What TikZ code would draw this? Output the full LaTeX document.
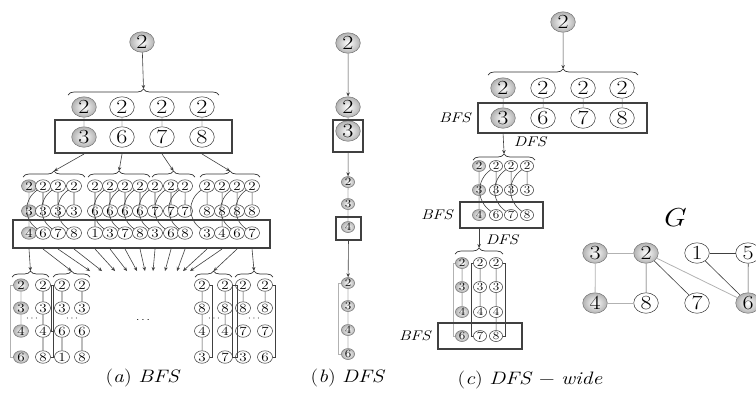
\documentclass[tikz,border=0pt]{standalone}
\usepackage{tikz}
\usetikzlibrary{positioning,decorations.pathreplacing,arrows.meta}

\tikzset{
  vtx/.style={circle, draw=black!80, inner sep=0pt, line width=0.5pt},
  big/.style={vtx, minimum size=20.5pt, font=\fontsize{20}{20}\selectfont},
  med/.style={vtx, minimum size=12.5pt, font=\fontsize{12.5}{12.5}\selectfont},
  sml/.style={vtx, minimum size=11pt, font=\fontsize{11}{11}\selectfont},
  seen/.style={inner color=white, outer color=black!30, draw=black!55},
  unseen/.style={fill=white},
  bfsbox/.style={draw=black!75, line width=2pt, inner sep=0pt},
  brc/.style={decorate, decoration={brace, amplitude=6pt}, draw=black!80, line width=0.7pt},
  gl/.style={draw=black!30, line width=0.8pt},
  dl/.style={draw=black!75, line width=0.6pt},
  lbl/.style={font=\fontsize{14}{14}\selectfont\itshape, inner sep=0pt},
  captxt/.style={font=\fontsize{18}{18}\selectfont}
}

\begin{document}
\begin{tikzpicture}[x=0.8333pt, y=1pt, xscale=1.2, transform shape,
    >={Stealth[length=4pt,width=3.5pt]}]
  \useasboundingbox (0,0) rectangle (756,-397);

  % (a) BFS: the root and the first level
  \node[big,seen] (a0) at (142,-42) {2};
  \draw[brc] (68,-95) -- (219,-95);
  \coordinate (a0t) at (143.5,-89);
  \draw[->,dl] (a0) -- (a0t);
  \foreach \x/\v/\s [count=\i] in {84/3/seen,122/6/unseen,162/7/unseen,202/8/unseen} {
    \node[big,\s] (a1\i) at (\x,-107) {2};
    \node[big,\s] (a2\i) at (\x,-137) {\v};
  }
  \foreach \i in {1,...,4} \draw[gl] (a1\i) -- (a2\i);
  \node[bfsbox, minimum width=147.5pt, minimum height=33pt] (boxa1) at (143.5,-136.5) {};

  % second level: one brace per node of the box
  \foreach \l/\r [count=\i] in {23/85,88/150,152/195,200/260} {
    \draw[brc] (\l,-177) -- (\r,-177);
    \coordinate (a2t\i) at ({(\l+\r)/2},-171);
  }
  \foreach \i in {1,...,4} \draw[->,dl] (a2\i |- boxa1.south) -- (a2t\i);

  \foreach \x/\m/\b/\s [count=\j] in {29/3/4/seen,43/3/6/unseen,58/3/7/unseen,74/3/8/unseen,
      95/6/1/unseen,110/6/3/unseen,125/6/7/unseen,140/6/8/unseen,
      155/7/3/unseen,171/7/6/unseen,185/7/8/unseen,
      207/8/3/unseen,222/8/4/unseen,237/8/6/unseen,252/8/7/unseen} {
    \node[med,\s] (c\j) at (\x,-186) {2};
    \node[med,\s] (d\j) at (\x,-211) {\m};
    \node[med,\s] (e\j) at (\x,-233) {\b};
  }
  \draw[gl] (c1) -- (d1) -- (e1);
  \foreach \j in {2,...,15} \draw[dl] (c\j) -- (d\j);
  \foreach \j in {5,13} \draw[dl] (d\j) -- (e\j);
  \foreach \j in {2,3,4,6,7,8,9,10,11,12,14,15} \draw[dl] (c\j) to[bend right=50] (e\j);
  \node[bfsbox, minimum width=214.2pt, minimum height=28pt] (boxa2) at (141.5,-234) {};

  % third level (only the first and the last two groups are drawn)
  \foreach \l/\r/\n in {12/49/f1,53/90/f2,195/232/f14,235/273/f15} {
    \draw[brc] (\l,-277) -- (\r,-277);
    \coordinate (\n) at ({(\l+\r)/2},-271);
  }
  \foreach \j/\t in {3/90,4/102,5/115,6/127,7/137,8/145,9/153,10/165,11/177,12/183,13/190}
    \coordinate (f\j) at (\t,-271);
  \foreach \j in {1,...,15} \draw[->,dl] (e\j |- boxa2.south) -- (f\j);

  \foreach \x/\p/\q/\r/\s [count=\k] in {21/3/4/6/seen,43/3/4/8/unseen,62/3/6/1/unseen,82/3/6/8/unseen,
      202/8/4/3/unseen,225/8/4/7/unseen,243/8/7/3/unseen,265/8/7/6/unseen} {
    \node[med,\s] (ha\k) at (\x,-285) {2};
    \node[med,\s] (hb\k) at (\x,-308) {\p};
    \node[med,\s] (hc\k) at (\x,-331) {\q};
    \node[med,\s] (hd\k) at (\x,-357) {\r};
  }
  \draw[gl] (ha1) -- (hb1) -- (hc1);
  \draw[gl] (ha1.west) -- ++(-2.5,0) |- (hd1.west);
  \draw[dl] (ha2) -- (hb2) -- (hc2) -- (hd2);
  \draw[dl] (ha2.east) -- ++(2.5,0) |- (hd2.east);
  \draw[dl] (ha3) -- (hb3);
  \draw[dl] (hc3) -- (hd3);
  \draw[dl] (ha3.west) -- ++(-2.5,0) |- (hc3.west);
  \draw[dl] (ha4) -- (hb4);
  \draw[dl] (hc4) -- (hd4);
  \draw[dl] (ha5) -- (hb5) -- (hc5) -- (hd5);
  \draw[dl] (ha5.east) -- ++(2.5,0) |- (hd5.east);
  \draw[dl] (ha6) -- (hb6) -- (hc6);
  \draw[dl] (ha6.east) -- ++(4,0) |- (hd6.east);
  \draw[dl] (ha7) -- (hb7);
  \draw[dl] (ha7.west) -- ++(-2.5,0) |- (hd7.west);
  \draw[dl] (ha8) -- (hb8);
  \draw[dl] (ha8.east) -- ++(2.5,0) |- (hd8.east);

  \foreach \x [count=\i] in {32,72,214,254} \node[font=\footnotesize] (dd\i) at (\x,-319) {$\cdots$};
  \node (ddm) at (143,-320) {$\cdots$};
  \node[captxt] (capa) at (143,-378) {(\textit{a}) \textit{BFS}};

  % (b) DFS
  \node[big,seen] (r0) at (348,-43) {2};
  \node[big,seen] (r1) at (348,-107) {2};
  \node[big,seen] (r2) at (348,-131) {3};
  \draw[->,dl] (r0) -- (r1);
  \draw[gl] (r1) -- (r2);
  \node[bfsbox, minimum width=25pt, minimum height=32pt] (boxr1) at (348,-136) {};
  \foreach \y/\v [count=\i] in {182/2,204/3,227/4} \node[sml,seen] (rs\i) at (348,-\y) {\v};
  \draw[gl] (rs1) -- (rs2) -- (rs3);
  \node[bfsbox, minimum width=20.8pt, minimum height=23pt] (boxr2) at (348.5,-228.5) {};
  \draw[->,dl] (boxr1) -- (rs1);
  \foreach \y/\v [count=\i] in {283/2,306/3,330/4,354/6} \node[sml,seen] (rt\i) at (348,-\y) {\v};
  \draw[gl] (rt1) -- (rt2) -- (rt3) -- (rt4);
  \draw[gl] (rt1.west) -- ++(-3,0) |- (rt4.west);
  \draw[->,dl] (boxr2) -- (rt1);
  \node[captxt] (capb) at (348,-378) {(\textit{b}) \textit{DFS}};

  % (c) DFS-wide
  \node[big,seen] (w0) at (563,-22) {2};
  \draw[brc] (488,-75) -- (638,-75);
  \coordinate (w0t) at (563,-69);
  \draw[->,dl] (w0) -- (w0t);
  \foreach \x/\v/\s [count=\i] in {503/3/seen,543/6/unseen,583/7/unseen,622/8/unseen} {
    \node[big,\s] (w1\i) at (\x,-88) {2};
    \node[big,\s] (w2\i) at (\x,-118) {\v};
  }
  \foreach \i in {1,...,4} \draw[gl] (w1\i) -- (w2\i);
  \node[bfsbox, minimum width=140.8pt, minimum height=30pt] (boxw1) at (562.5,-118) {};
  \node[lbl, left=5pt of boxw1] (bfsw1) {BFS};
  \draw[brc] (473,-160) -- (535,-160);
  \coordinate (w1t) at (504,-154);
  \draw[->,dl] (w21 |- boxw1.south) -- (w1t);
  \node[lbl] (dfsw1) at (530,-142) {DFS};

  \foreach \x/\b/\s [count=\j] in {479/4/seen,496/6/unseen,511/7/unseen,527/8/unseen} {
    \node[sml,\s] (wc\j) at (\x,-166) {2};
    \node[sml,\s] (wd\j) at (\x,-190) {3};
    \node[sml,\s] (we\j) at (\x,-215) {\b};
  }
  \draw[gl] (wc1) -- (wd1) -- (we1);
  \foreach \j in {2,3,4} {
    \draw[dl] (wc\j) -- (wd\j);
    \draw[dl] (wc\j) to[bend right=50] (we\j);
  }
  \node[bfsbox, minimum width=69.2pt, minimum height=26pt] (boxw2) at (501.5,-215) {};
  \node[lbl, left=5pt of boxw2] (bfsw2) {BFS};
  \draw[brc] (455,-254) -- (503,-254);
  \coordinate (w2t) at (479,-248);
  \draw[->,dl] (wc1 |- boxw2.south) -- (w2t);
  \node[lbl] (dfsw2) at (502,-240) {DFS};

  \foreach \x/\b/\s [count=\k] in {462/6/seen,480/7/unseen,496/8/unseen} {
    \node[sml,\s] (wf\k) at (\x,-263) {2};
    \node[sml,\s] (wg\k) at (\x,-287) {3};
    \node[sml,\s] (wh\k) at (\x,-312) {4};
    \node[sml,\s] (wi\k) at (\x,-336) {\b};
  }
  \draw[gl] (wf1) -- (wg1) -- (wh1);
  \draw[gl] (wf1.west) -- ++(-2,0) |- (wi1.west);
  \draw[dl] (wf2) -- (wg2) -- (wh2);
  \draw[dl] (wf2.west) -- ++(-2,0) |- (wi2.west);
  \draw[dl] (wf3) -- (wg3) -- (wh3) -- (wi3);
  \draw[dl] (wf3.east) -- ++(2,0) |- (wi3.east);
  \node[bfsbox, minimum width=70pt, minimum height=26pt] (boxw3) at (480,-336) {};
  \node[lbl, left=5pt of boxw3] (bfsw3) {BFS};
  \node[captxt] (capc) at (530,-380) {(\textit{c}) \textit{DFS} − \textit{wide}};

  % the graph G
  \node[font=\fontsize{26}{26}\selectfont\itshape] (glab) at (673,-218) {G};
  \foreach \n/\x/\y/\s in {3/595/253/seen,2/646/253/seen,1/697/253/unseen,5/748/253/unseen,
      4/595/303/seen,8/646/303/unseen,7/697/303/unseen,6/748/303/seen}
    \node[big,\s] (v\n) at (\x,-\y) {\n};
  \draw[gl] (v3) -- (v2);
  \draw[gl] (v3) -- (v4);
  \draw[gl] (v4) -- (v8);
  \draw[gl] (v2) -- (v6);
  \draw[dl] (v2) -- (v8);
  \draw[dl] (v2) -- (v7);
  \draw[dl] (v1) -- (v5);
  \draw[dl] (v1) -- (v6);
  \draw[dl] (v5) -- (v6);
\end{tikzpicture}
\end{document}
